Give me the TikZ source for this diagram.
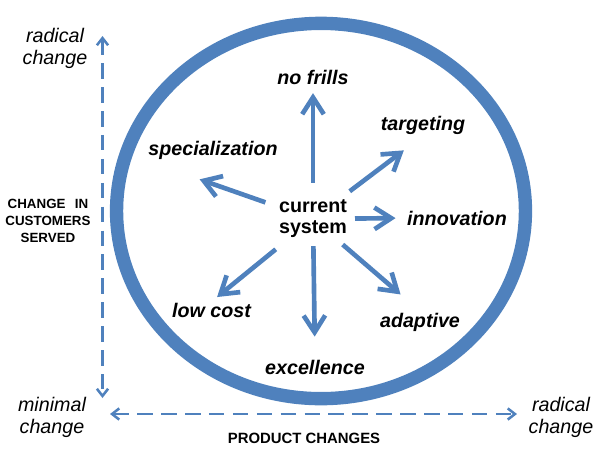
\documentclass[tikz,border=0pt]{standalone}
\usepackage{fontspec}
\setmainfont{Liberation Sans}
\usetikzlibrary{arrows.meta, positioning}
\definecolor{Steel}{HTML}{4F81BD}
\tikzset{
    ring/.style={draw=Steel, line width=9.5pt},
    spoke/.style={-{Straight Barb[length=4.2mm, width=5.4mm]}, line width=3.3pt, draw=Steel},
    axis/.style={{Straight Barb[length=1.8mm, width=2.8mm]}-{Straight Barb[length=1.8mm, width=2.8mm]}, line width=1.8pt, draw=Steel, dash pattern=on 11pt off 6pt},
    option/.style={font=\fontsize{14}{16}\selectfont\bfseries\itshape, inner sep=1pt},
    hubnode/.style={font=\fontsize{14}{15}\selectfont\bfseries, align=center, inner sep=0pt},
    endlabel/.style={font=\fontsize{14}{15.6}\selectfont\itshape, align=center, inner sep=0pt},
    axislabel/.style={font=\fontsize{9.5}{12.2}\selectfont\bfseries, align=center, inner sep=0pt},
}

\begin{document}
\begin{tikzpicture}[x=0.025cm, y=-0.025cm]
    \useasboundingbox (0,0) rectangle (600,450);

    % the big ring
    \draw[ring] (321,211) ellipse [x radius=5.11cm, y radius=4.69cm];

    % axes
    \coordinate (ytop) at (102.5,36);
    \coordinate (ybot) at (102.5,398);
    \coordinate (xleft) at (110,414);
    \coordinate (xright) at (517,414);
    \draw[axis] (ytop) -- (ybot);
    \draw[axis] (xleft) -- (xright);

    \node[endlabel] (radtop) at (55,48) {radical\\change};
    \node[endlabel] (minimal) at (52,417) {minimal\\change};
    \node[endlabel] (radright) at (561,417) {radical\\change};
    \node[axislabel] (customers) at (48,221) {CHANGE\hspace{0.7em}IN\\CUSTOMERS\\SERVED};
    \node[axislabel, font=\fontsize{10.6}{12}\selectfont\bfseries] (product) at (304,438) {PRODUCT CHANGES};

    % centre and options
    \node[hubnode] (cur) at (313,219) {current\\system};
    \node[option] (frills) at (313,77) {no frills};
    \node[option] (target) at (423,125) {targeting};
    \node[option] (spec) at (213,150) {specialization};
    \node[option] (innov) at (457,218) {innovation};
    \node[option] (lowcost) at (211.5,310.5) {low cost};
    \node[option] (adapt) at (420,322) {adaptive};
    \node[option] (excel) at (315,367.5) {excellence};

    % spokes
    \draw[spoke, shorten <=0.9cm, shorten >=0.18cm] (cur.center) -- (frills.south);
    \draw[spoke, shorten <=1.15cm, shorten >=0.6cm] (cur.center) -- (target.south);
    \draw[spoke, shorten <=1.26cm, shorten >=1.4cm] (cur.center) -- (spec.south west);
    \draw[spoke, shorten <=1.05cm, shorten >=0.25cm] (cur.center) -- (innov.west);
    \draw[spoke, shorten <=1.2cm, shorten >=0.18cm] (cur.center) -- (lowcost.north);
    \draw[spoke, shorten <=0.98cm, shorten >=0.64cm] (cur.center) -- (adapt.north);
    \draw[spoke, shorten <=0.68cm, shorten >=0.55cm] (cur.center) -- (excel.north);
\end{tikzpicture}
\end{document}
